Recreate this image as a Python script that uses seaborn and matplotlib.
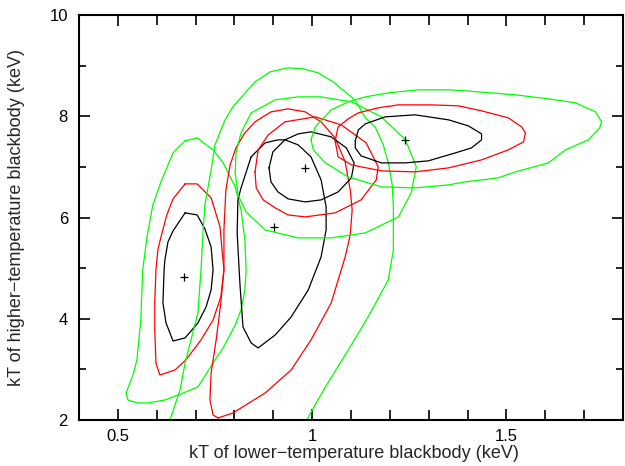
import numpy as np
import pandas as pd
import matplotlib
matplotlib.use("Agg")
import matplotlib.pyplot as plt
import seaborn as sns
from matplotlib.ticker import MultipleLocator, FixedLocator

# ---------------- data ----------------
# Best-fit points
best_x = [0.669, 0.902, 0.981, 1.239]
best_y = [4.820, 5.820, 6.974, 7.534]

# Group 1 (left)
g1_black_x = [0.673, 0.704, 0.724, 0.740, 0.745, 0.740, 0.727, 0.706, 0.673, 0.642, 0.624, 0.616, 0.619, 0.621, 0.629, 0.642, 0.673]
g1_black_y = [6.091, 6.051, 5.775, 5.419, 4.964, 4.569, 4.233, 3.917, 3.621, 3.561, 3.917, 4.312, 4.964, 5.162, 5.518, 5.735, 6.091]
g1_red_x = [0.673, 0.704, 0.740, 0.763, 0.768, 0.773, 0.765, 0.745, 0.714, 0.675, 0.647, 0.608, 0.598, 0.595, 0.595, 0.598, 0.603, 0.611, 0.626, 0.642, 0.673]
g1_red_y = [6.664, 6.664, 6.387, 5.814, 5.360, 4.964, 4.431, 3.976, 3.581, 3.186, 2.988, 2.889, 3.126, 3.779, 4.312, 4.964, 5.360, 5.617, 6.051, 6.368, 6.664]
g1_green_x = [0.673, 0.704, 0.745, 0.771, 0.802, 0.817, 0.827, 0.830, 0.827, 0.817, 0.802, 0.771, 0.750, 0.706, 0.655, 0.621, 0.577, 0.552, 0.526, 0.521, 0.539, 0.549, 0.559, 0.564, 0.575, 0.590, 0.611, 0.642, 0.673]
g1_green_y = [7.514, 7.573, 7.336, 7.079, 6.605, 6.150, 5.557, 4.964, 4.569, 4.174, 3.877, 3.423, 3.186, 2.652, 2.494, 2.395, 2.336, 2.336, 2.395, 2.534, 2.889, 3.186, 3.976, 4.964, 5.617, 6.249, 6.704, 7.277, 7.514]

# Group 2 (elongated, middle)
g2_black_x = [0.843, 0.879, 0.912, 0.930, 0.964, 0.997, 1.023, 1.036, 1.036, 1.023, 0.990, 0.946, 0.905, 0.861, 0.843, 0.822, 0.814, 0.807, 0.809, 0.817, 0.843]
g2_black_y = [7.198, 7.474, 7.534, 7.534, 7.435, 7.198, 6.743, 6.209, 5.755, 5.221, 4.569, 4.036, 3.680, 3.423, 3.522, 3.838, 4.708, 5.696, 6.348, 6.585, 7.198]
g2_red_x = [0.758, 0.745, 0.737, 0.740, 0.753, 0.765, 0.773, 0.773, 0.778, 0.789, 0.804, 0.825, 0.853, 0.894, 0.938, 0.982, 1.023, 1.059, 1.085, 1.098, 1.103, 1.098, 1.085, 1.049, 0.997, 0.946, 0.879, 0.796, 0.758]
g2_red_y = [2.040, 2.099, 2.395, 2.929, 3.581, 4.312, 4.964, 5.755, 6.545, 7.040, 7.375, 7.652, 7.889, 8.087, 8.146, 8.087, 7.889, 7.573, 7.099, 6.545, 6.150, 5.656, 5.221, 4.312, 3.581, 2.988, 2.534, 2.138, 2.040]
g2_green_x = [0.624, 0.634, 0.660, 0.673, 0.706, 0.714, 0.719, 0.724, 0.740, 0.750, 0.776, 0.796, 0.853, 0.892, 0.938, 0.977, 1.015, 1.054, 1.085, 1.110, 1.137, 1.162, 1.183, 1.196, 1.206, 1.209, 1.209, 1.196, 1.144, 1.093, 1.034, 0.990, 0.977]
g2_green_y = [1.802, 2.000, 2.593, 3.126, 4.115, 4.964, 5.696, 6.249, 6.941, 7.435, 7.929, 8.186, 8.680, 8.877, 8.957, 8.937, 8.858, 8.680, 8.482, 8.324, 7.968, 7.791, 7.435, 7.079, 6.644, 6.209, 5.360, 4.767, 4.036, 3.383, 2.652, 2.059, 1.802]

# Group 3 (rings around the middle best fit)
g3_black_x = [0.889, 0.899, 0.930, 0.964, 0.997, 1.049, 1.088, 1.108, 1.101, 1.067, 1.023, 0.982, 0.938, 0.912, 0.894, 0.889]
g3_black_y = [6.980, 7.296, 7.534, 7.652, 7.692, 7.593, 7.375, 7.079, 6.783, 6.506, 6.348, 6.308, 6.368, 6.506, 6.704, 6.980]
g3_red_x = [0.853, 0.861, 0.887, 0.930, 1.008, 1.075, 1.139, 1.170, 1.165, 1.126, 1.059, 0.982, 0.938, 0.905, 0.874, 0.856, 0.853]
g3_red_y = [6.901, 7.336, 7.632, 7.889, 7.988, 7.830, 7.474, 7.000, 6.743, 6.348, 6.091, 6.012, 6.051, 6.190, 6.348, 6.585, 6.901]
g3_green_x = [0.802, 0.804, 0.817, 0.843, 0.905, 0.964, 1.023, 1.101, 1.178, 1.240, 1.268, 1.255, 1.222, 1.137, 1.049, 0.964, 0.879, 0.830, 0.809, 0.802]
g3_green_y = [6.881, 7.277, 7.672, 8.067, 8.324, 8.383, 8.383, 8.285, 7.988, 7.534, 7.000, 6.486, 6.012, 5.696, 5.597, 5.597, 5.755, 6.111, 6.447, 6.881]

# Group 4 (right, elongated in x)
g4_black_x = [1.111, 1.119, 1.137, 1.188, 1.265, 1.351, 1.402, 1.436, 1.436, 1.410, 1.369, 1.299, 1.240, 1.178, 1.126, 1.111, 1.111]
g4_black_y = [7.514, 7.731, 7.850, 7.988, 8.028, 7.929, 7.810, 7.652, 7.534, 7.375, 7.277, 7.119, 7.079, 7.079, 7.217, 7.375, 7.514]
g4_red_x = [1.059, 1.067, 1.093, 1.119, 1.170, 1.222, 1.307, 1.376, 1.436, 1.505, 1.539, 1.549, 1.544, 1.505, 1.436, 1.351, 1.265, 1.178, 1.101, 1.067, 1.059]
g4_red_y = [7.514, 7.791, 7.949, 8.067, 8.166, 8.225, 8.225, 8.206, 8.107, 7.968, 7.791, 7.672, 7.494, 7.336, 7.138, 6.980, 6.901, 6.921, 7.040, 7.198, 7.514]
g4_green_x = [0.997, 1.008, 1.049, 1.093, 1.137, 1.196, 1.273, 1.351, 1.394, 1.523, 1.608, 1.678, 1.729, 1.745, 1.740, 1.711, 1.652, 1.608, 1.523, 1.479, 1.394, 1.351, 1.265, 1.178, 1.093, 1.034, 1.003, 0.997]
g4_green_y = [7.534, 7.791, 8.126, 8.285, 8.383, 8.462, 8.522, 8.522, 8.502, 8.423, 8.344, 8.265, 8.087, 7.889, 7.771, 7.534, 7.336, 7.079, 6.901, 6.783, 6.704, 6.644, 6.585, 6.605, 6.802, 7.079, 7.336, 7.534]

x_major = [0.5, 1.0, 1.5]
x_major_labels = ["0.5", "1", "1.5"]
y_major = [2, 4, 6, 8, 10]
y_major_labels = ["2", "4", "6", "8", "10"]
xlabel = "kT of lower\u2212temperature blackbody (keV)"
ylabel = "kT of higher\u2212temperature blackbody (keV)"

contours = [
    (g1_black_x, g1_black_y, "black"), (g1_red_x, g1_red_y, "red"), (g1_green_x, g1_green_y, "green"),
    (g2_black_x, g2_black_y, "black"), (g2_red_x, g2_red_y, "red"), (g2_green_x, g2_green_y, "green"),
    (g3_black_x, g3_black_y, "black"), (g3_red_x, g3_red_y, "red"), (g3_green_x, g3_green_y, "green"),
    (g4_black_x, g4_black_y, "black"), (g4_red_x, g4_red_y, "red"), (g4_green_x, g4_green_y, "green"),
]
palette = {"black": "#000000", "red": "#ff0000", "green": "#00ff00"}

# ---------------- plotting ----------------
sns.set_theme(style="ticks")
plt.rcParams["font.family"] = ["Liberation Sans", "DejaVu Sans"]

fig = plt.figure(figsize=(6.25, 4.66), dpi=100)
ax = fig.add_axes([79 / 625, 46 / 466, (623 - 79) / 625, (420 - 15) / 466])

for i, (cx, cy, level) in enumerate(contours):
    df = pd.DataFrame({"x": cx, "y": cy})
    sns.lineplot(data=df, x="x", y="y", sort=False, estimator=None,
                 color=palette[level], lw=0.9, ax=ax)

sns.scatterplot(x=best_x, y=best_y, marker="+", s=40, color="black",
                linewidth=0.9, ax=ax, zorder=5)

ax.set_xlim(0.4, 1.8)
ax.set_ylim(2, 10)
ax.xaxis.set_major_locator(FixedLocator(x_major))
ax.set_xticklabels(x_major_labels)
ax.xaxis.set_minor_locator(MultipleLocator(0.1))
ax.yaxis.set_major_locator(FixedLocator(y_major))
ax.set_yticklabels(y_major_labels)
ax.yaxis.set_minor_locator(MultipleLocator(1))

ax.tick_params(which="both", direction="in", top=True, right=True,
               colors="black", labelsize=12, width=1.2)
ax.tick_params(which="major", length=8)
ax.tick_params(axis="x", which="major", pad=6.5)
ax.tick_params(axis="y", which="major", pad=8)
ax.tick_params(which="minor", length=5)
ax.tick_params(axis="x", which="minor", length=7)

for sp in ax.spines.values():
    sp.set_linewidth(1.5)
    sp.set_color("black")
    sp.set_visible(True)

ax.set_xlabel(xlabel, fontsize=13)
ax.set_ylabel(ylabel, fontsize=13)
ax.xaxis.set_label_coords(0.505, -0.062)
ax.yaxis.set_label_coords(-0.099, 0.5)

fig.savefig("out.png", dpi=100)
